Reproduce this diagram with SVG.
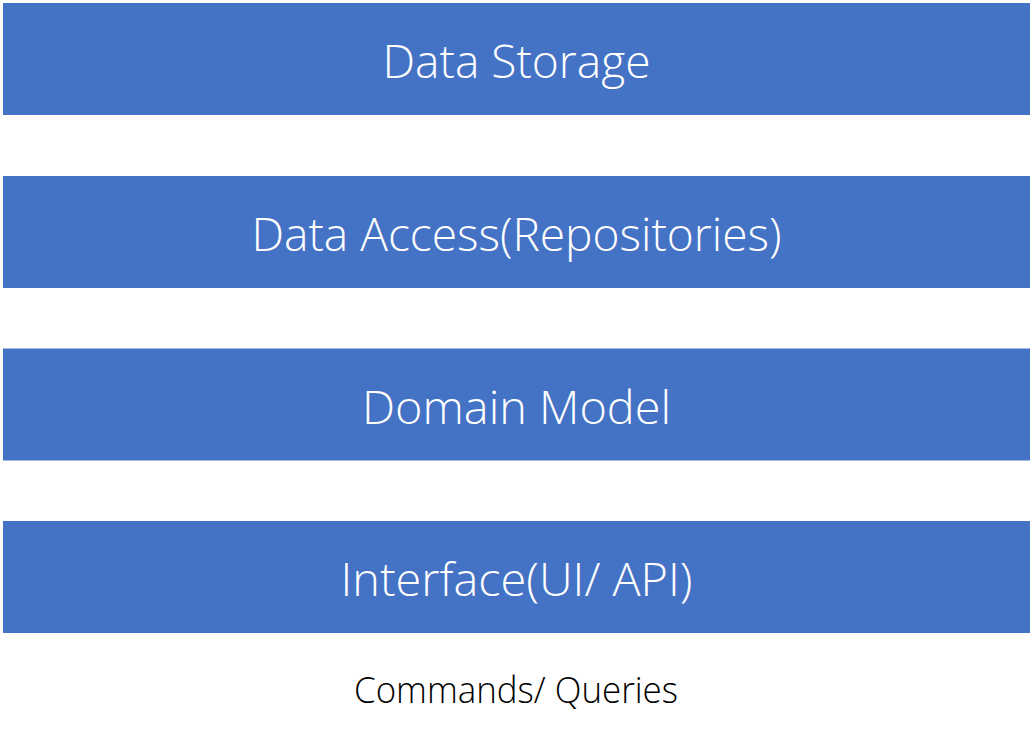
<svg xmlns="http://www.w3.org/2000/svg" width="1033" height="734" viewBox="0 0 1033 734">
<style>
.bar{fill:#4472C4}
.t{font-family:"Open Sans","Noto Sans","Liberation Sans",sans-serif;font-weight:300;font-size:46px;fill:#ffffff;text-anchor:middle}
.c{font-family:"Open Sans","Noto Sans","Liberation Sans",sans-serif;font-weight:300;font-size:36px;fill:#000000;text-anchor:middle}
</style>
<rect width="1033" height="734" fill="#ffffff"/>
<g id="data-storage"><rect class="bar" x="3" y="3" width="1027" height="112"/><text class="t" x="516.5" y="78" textLength="268" lengthAdjust="spacingAndGlyphs">Data Storage</text></g>
<g id="data-access"><rect class="bar" x="3" y="176" width="1027" height="112"/><text class="t" x="516.5" y="251" textLength="530" lengthAdjust="spacingAndGlyphs">Data Access(Repositories)</text></g>
<g id="domain-model"><rect class="bar" x="3" y="348.5" width="1027" height="112"/><text class="t" x="516.5" y="423.5" textLength="309" lengthAdjust="spacingAndGlyphs">Domain Model</text></g>
<g id="interface"><rect class="bar" x="3" y="521" width="1027" height="112"/><text class="t" x="516.5" y="596" textLength="352" lengthAdjust="spacingAndGlyphs">Interface(UI/ API)</text></g>
<g id="commands"><text class="c" x="516" y="703" textLength="324" lengthAdjust="spacingAndGlyphs">Commands/ Queries</text></g>
<g id="connectors"></g>
</svg>
